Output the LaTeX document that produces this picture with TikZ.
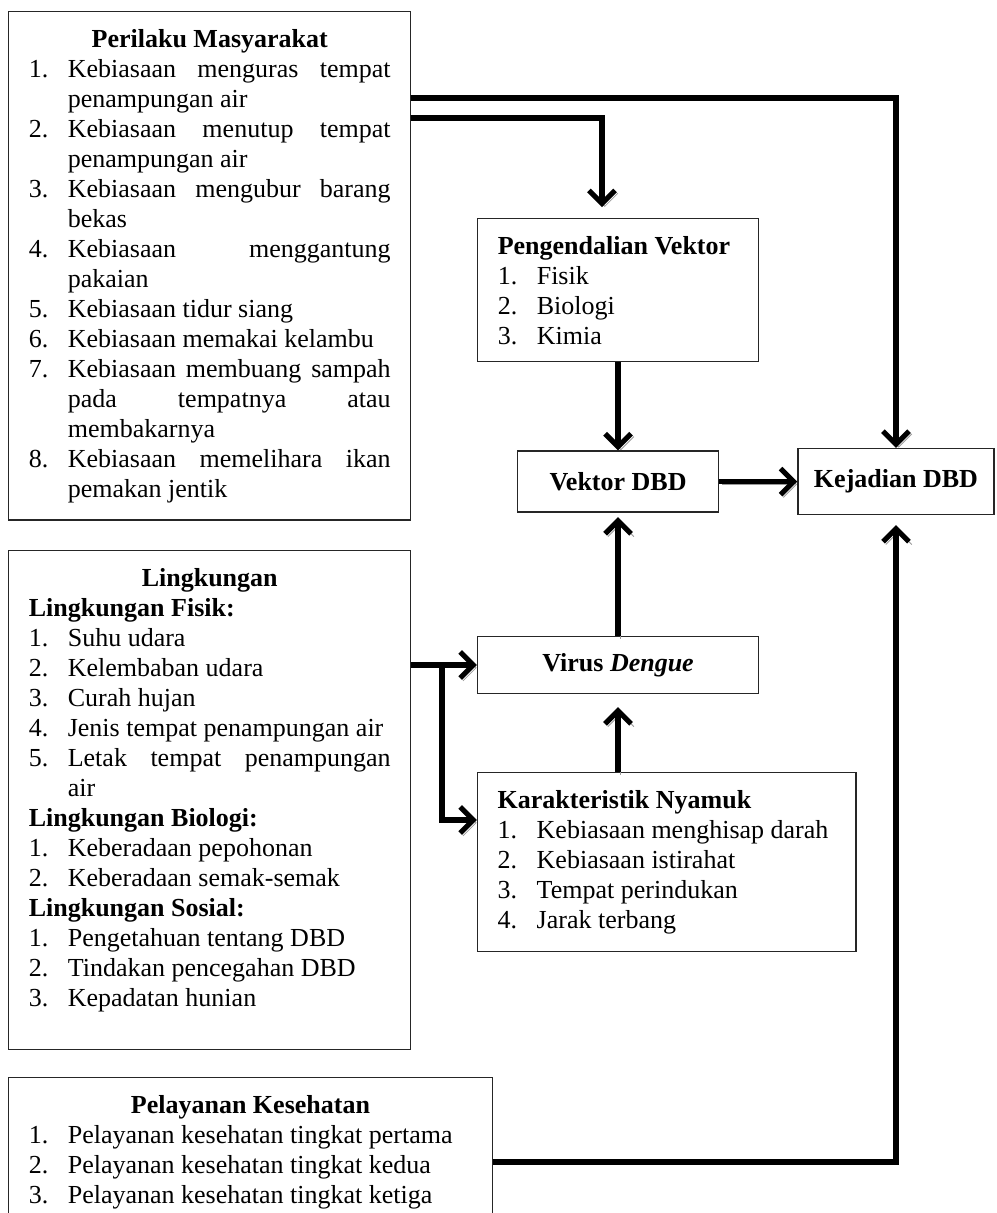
\documentclass[tikz,border=0pt]{standalone}
\usepackage{fontspec}
\setmainfont{Liberation Serif}
\usetikzlibrary{arrows.meta,positioning}

\hyphenpenalty=10000
\hbadness=10000
% numbered line with hanging indent
\newcommand\itm[2]{\par\hangindent=18pt\hangafter=1\noindent\makebox[18pt][l]{#1.}#2}
\newcommand\judul[1]{{\centering\textbf{#1}\par}}
\newcommand\subjudul[1]{\par\noindent\textbf{#1}}

\begin{document}
\begin{tikzpicture}[
  x=0.4615pt, y=-0.4615pt,
  box/.style={rectangle, draw=black!85, line width=0.6pt, fill=white, inner xsep=9.3pt, inner ysep=8pt, align=justify, font=\fontsize{12}{13.85}\selectfont},
  kotak/.style={rectangle, draw=black!85, line width=0.6pt, fill=white, font=\fontsize{12}{13.85}\selectfont\bfseries},
  arr/.style={line width=2.4pt, -{Straight Barb[length=6pt,width=12pt]}, preaction={draw=black!40, transform canvas={shift={(1.3pt,-1.3pt)}}}}
]
  \useasboundingbox (0,0) rectangle (996,1213);

  % left column
  \node[box, anchor=north west, text width=167pt] (per) at (8,11) {
    \judul{Perilaku Masyarakat}
    \itm{1}{Kebiasaan menguras tempat\linebreak penampungan air}
    \itm{2}{Kebiasaan menutup tempat\linebreak penampungan air}
    \itm{3}{Kebiasaan mengubur barang\linebreak bekas}
    \itm{4}{Kebiasaan menggantung\linebreak pakaian}
    \itm{5}{Kebiasaan tidur siang}
    \itm{6}{Kebiasaan memakai kelambu}
    \itm{7}{Kebiasaan membuang sampah\linebreak pada tempatnya atau\linebreak membakarnya}
    \itm{8}{Kebiasaan memelihara ikan\linebreak pemakan jentik}\par
  };
  \node[box, anchor=north west, text width=167pt] (lin) at (8,550) {
    \judul{Lingkungan}
    \subjudul{Lingkungan Fisik:}
    \itm{1}{Suhu udara}
    \itm{2}{Kelembaban udara}
    \itm{3}{Curah hujan}
    \itm{4}{Jenis tempat penampungan air}
    \itm{5}{Letak tempat penampungan\linebreak air}
    \subjudul{Lingkungan Biologi:}
    \itm{1}{Keberadaan pepohonan}
    \itm{2}{Keberadaan semak-semak}
    \subjudul{Lingkungan Sosial:}
    \itm{1}{Pengetahuan tentang DBD}
    \itm{2}{Tindakan pencegahan DBD}
    \itm{3}{Kepadatan hunian\rule[-12pt]{0pt}{12pt}}\par
  };
  \node[box, anchor=north west, text width=204.6pt] (pel) at (8,1077) {
    \judul{Pelayanan Kesehatan}
    \itm{1}{Pelayanan kesehatan tingkat pertama}
    \itm{2}{Pelayanan kesehatan tingkat kedua}
    \itm{3}{Pelayanan kesehatan tingkat ketiga\rule[-12pt]{0pt}{12pt}}\par
  };

  % middle column
  \node[box, anchor=north west, text width=111pt] (pen) at (477,218) {
    \mbox{\textbf{Pengendalian Vektor}}
    \itm{1}{Fisik}
    \itm{2}{Biologi}
    \itm{3}{Kimia}\par
  };
  \node[kotak, minimum width=92.8pt, minimum height=28.2pt, below=40.6pt of pen] (vek) {Vektor DBD};
  \node[kotak, minimum width=90.5pt, minimum height=30.5pt, right=36pt of vek] (kej) {Kejadian DBD};
  \node[kotak, minimum width=129.7pt, minimum height=26.3pt, below=56.8pt of vek] (vir) {Virus \textit{Dengue}};
  \node[box, text width=156pt, below=36pt of vir.south west, anchor=north west] (kar) {
    \textbf{Karakteristik Nyamuk}
    \itm{1}{Kebiasaan menghisap darah}
    \itm{2}{Kebiasaan istirahat}
    \itm{3}{Tempat perindukan}
    \itm{4}{Jarak terbang}\par
  };

  \coordinate (ja) at (0,98);
  \coordinate (jb) at (602,118);
  \coordinate (jc) at (442,0);
  \coordinate (jd) at (0,820);
  \coordinate (je) at (0,1162);

  \draw[arr] (per.east |- ja) -| (kej.north);
  \draw[arr, shorten >=5pt] (per.east |- jb) -| (jb |- pen.north);
  \draw[arr] (pen) -- (vek);
  \draw[arr] (vek) -- (kej);
  \draw[arr, shorten >=2pt] (vir) -- (vek);
  \draw[arr, shorten >=6pt] (vir.south |- kar.north) -- (vir.south);
  \draw[arr] (lin.east |- vir.west) -- (vir.west);
  \draw[arr] (jc |- vir.west) |- (kar.west |- jd);
  \draw[arr, shorten >=4.5pt] (pel.east |- je) -| (kej.south);
\end{tikzpicture}
\end{document}
